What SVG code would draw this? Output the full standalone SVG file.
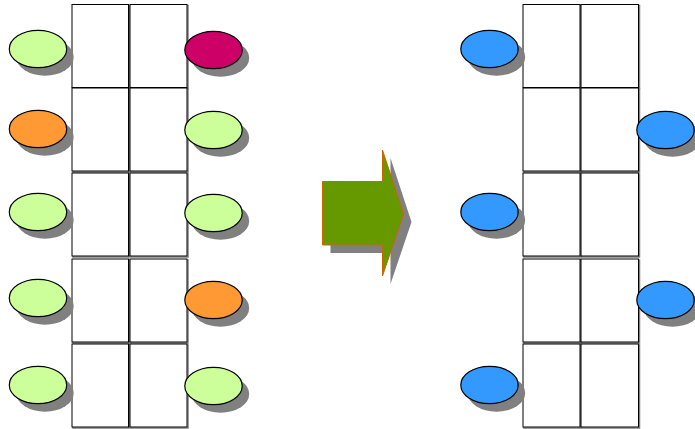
<svg xmlns="http://www.w3.org/2000/svg" width="695" height="429" viewBox="0 0 695 429">
<defs>
<style>
.cell{fill:#fff;stroke:#000;stroke-width:1}
.cs{fill:none;stroke:#808080;stroke-width:1.5}
.sh{fill:#808080}
.el{stroke:#000;stroke-width:1.2}
.g{fill:#ccff99}.m{fill:#cc0066}.o{fill:#ff9933}.b{fill:#3399ff}
</style>
<ellipse id="sh" class="sh" rx="28.7" ry="18.7"/>
</defs>
<rect width="695" height="429" fill="#fff"/>
<!-- left panel grid -->
<g id="left-grid">
<rect class="cs" x="73" y="5.5" width="56.5" height="83"/><rect class="cs" x="131" y="5.5" width="57" height="83"/>
<rect class="cs" x="73" y="89" width="56.5" height="83"/><rect class="cs" x="131" y="89" width="57" height="83"/>
<rect class="cs" x="73" y="174" width="56.5" height="83"/><rect class="cs" x="131" y="174" width="57" height="83"/>
<rect class="cs" x="73" y="260" width="56.5" height="83"/><rect class="cs" x="131" y="260" width="57" height="83"/>
<rect class="cs" x="73" y="345" width="56.5" height="83"/><rect class="cs" x="131" y="345" width="57" height="83"/>
<rect class="cell" x="72" y="4.5" width="56.5" height="83"/><rect class="cell" x="130" y="4.5" width="57" height="83"/>
<rect class="cell" x="72" y="88" width="56.5" height="83"/><rect class="cell" x="130" y="88" width="57" height="83"/>
<rect class="cell" x="72" y="173" width="56.5" height="83"/><rect class="cell" x="130" y="173" width="57" height="83"/>
<rect class="cell" x="72" y="259" width="56.5" height="83"/><rect class="cell" x="130" y="259" width="57" height="83"/>
<rect class="cell" x="72" y="344" width="56.5" height="83"/><rect class="cell" x="130" y="344" width="57" height="83"/>
</g>
<g id="right-grid">
<rect class="cs" x="524" y="5.5" width="57" height="83"/><rect class="cs" x="582" y="5.5" width="57.5" height="83"/>
<rect class="cs" x="524" y="89" width="57" height="83"/><rect class="cs" x="582" y="89" width="57.5" height="83"/>
<rect class="cs" x="524" y="174" width="57" height="83"/><rect class="cs" x="582" y="174" width="57.5" height="83"/>
<rect class="cs" x="524" y="260" width="57" height="83"/><rect class="cs" x="582" y="260" width="57.5" height="83"/>
<rect class="cs" x="524" y="345" width="57" height="83"/><rect class="cs" x="582" y="345" width="57.5" height="83"/>
<rect class="cell" x="523" y="4.5" width="57" height="83"/><rect class="cell" x="581" y="4.5" width="57.5" height="83"/>
<rect class="cell" x="523" y="88" width="57" height="83"/><rect class="cell" x="581" y="88" width="57.5" height="83"/>
<rect class="cell" x="523" y="173" width="57" height="83"/><rect class="cell" x="581" y="173" width="57.5" height="83"/>
<rect class="cell" x="523" y="259" width="57" height="83"/><rect class="cell" x="581" y="259" width="57.5" height="83"/>
<rect class="cell" x="523" y="344" width="57" height="83"/><rect class="cell" x="581" y="344" width="57.5" height="83"/>
</g>
<!-- left panel ellipses -->
<g id="L1"><use href="#sh" x="45" y="57"/><ellipse class="el g" cx="38" cy="49" rx="28.7" ry="18.7"/></g>
<g id="L2"><use href="#sh" x="45" y="137"/><ellipse class="el o" cx="38" cy="129" rx="28.7" ry="18.7"/></g>
<g id="L3"><use href="#sh" x="45" y="220"/><ellipse class="el g" cx="38" cy="212" rx="28.7" ry="18.7"/></g>
<g id="L4"><use href="#sh" x="45" y="306"/><ellipse class="el g" cx="38" cy="298" rx="28.7" ry="18.7"/></g>
<g id="L5"><use href="#sh" x="45" y="393"/><ellipse class="el g" cx="38" cy="385" rx="28.7" ry="18.7"/></g>
<g id="R1"><use href="#sh" x="220.5" y="58"/><ellipse class="el m" cx="213.5" cy="50" rx="28.7" ry="18.7"/></g>
<g id="R2"><use href="#sh" x="220.5" y="138"/><ellipse class="el g" cx="213.5" cy="130" rx="28.7" ry="18.7"/></g>
<g id="R3"><use href="#sh" x="220.5" y="221"/><ellipse class="el g" cx="213.5" cy="213" rx="28.7" ry="18.7"/></g>
<g id="R4"><use href="#sh" x="220.5" y="308"/><ellipse class="el o" cx="213.5" cy="300" rx="28.7" ry="18.7"/></g>
<g id="R5"><use href="#sh" x="220.5" y="394"/><ellipse class="el g" cx="213.5" cy="386" rx="28.7" ry="18.7"/></g>
<!-- right panel ellipses -->
<g id="B1"><use href="#sh" x="496.5" y="57"/><ellipse class="el b" cx="489.5" cy="49" rx="28.7" ry="18.7"/></g>
<g id="B2"><use href="#sh" x="672.5" y="138"/><ellipse class="el b" cx="665.5" cy="130" rx="28.7" ry="18.7"/></g>
<g id="B3"><use href="#sh" x="496.5" y="220"/><ellipse class="el b" cx="489.5" cy="212" rx="28.7" ry="18.7"/></g>
<g id="B4"><use href="#sh" x="672.5" y="308"/><ellipse class="el b" cx="665.5" cy="300" rx="28.7" ry="18.7"/></g>
<g id="B5"><use href="#sh" x="496.5" y="393"/><ellipse class="el b" cx="489.5" cy="385" rx="28.7" ry="18.7"/></g>
<!-- connectors -->
<g id="connectors">
<polygon class="sh" points="330.5,189.5 390.5,189.5 390.5,158 411.5,222 390.5,284 390.5,253 330.5,253"/>
<polygon points="322.5,181.5 382.5,181.5 382.5,150 403.5,214 382.5,276 382.5,245 322.5,245" fill="#669900" stroke="#cc6600" stroke-width="1"/>
</g>
</svg>
